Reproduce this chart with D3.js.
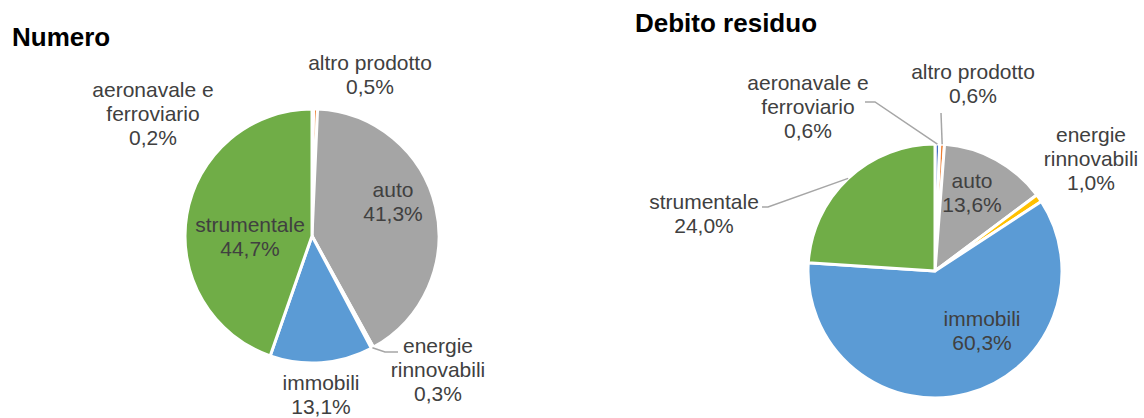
<!DOCTYPE html>
<html>
<head>
<meta charset="utf-8">
<script src="https://cdn.jsdelivr.net/npm/d3@7"></script>
<style>
  html, body { margin: 0; padding: 0; background: #fff; }
  svg { display: block; font-family: "Liberation Sans", Arial, sans-serif; }
</style>
</head>
<body>
<svg id="chart" width="1144" height="418"></svg>
<script>
// ---- Data ----
const categories = ["aeronavale e ferroviario", "altro prodotto", "auto", "energie rinnovabili", "immobili", "strumentale"];
const labelLines = [["aeronavale e", "ferroviario"], ["altro prodotto"], ["auto"], ["energie", "rinnovabili"], ["immobili"], ["strumentale"]];
const numeroValues = [0.2, 0.5, 41.3, 0.3, 13.1, 44.7];
const debitoValues = [0.6, 0.6, 13.6, 1.0, 60.3, 24.0];
const titles = ["Numero", "Debito residuo"];
const colors = ["#4472C4", "#ED7D31", "#A5A5A5", "#FFC000", "#5B9BD5", "#70AD47"];

// ---- Layout (label placement relative to pie centre) ----
const layouts = [
  {
    title: { x: 12, y: 46 }, cx: 312, cy: 236, r: 127,
    labels: [
      { dx: -159, y0: -139 },
      { dx: 58, y0: -166 },
      { dx: 81, y0: -39 },
      { dx: 126, y0: 117, leader: [[73, 116], [86, 116]] },
      { dx: 9, y0: 154 },
      { dx: -62, y0: -4 }
    ]
  },
  {
    title: { x: 635, y: 32 }, cx: 935, cy: 271, r: 127,
    labels: [
      { dx: -127, y0: -181, leader: [[-60, -169], [-70, -169]] },
      { dx: 38, y0: -192, leader: [[6, -158]] },
      { dx: 37, y0: -83 },
      { dx: 156, y0: -129 },
      { dx: 47, y0: 55 },
      { dx: -231, y0: -62, leader: [[-167, -64], [-173, -64]] }
    ]
  }
];

const svg = d3.select("#chart");
const fmt = v => d3.format(".1f")(v).replace(".", ",") + "%";
const lineH = 24;

[numeroValues, debitoValues].forEach((values, k) => {
  const L = layouts[k];
  svg.append("text")
    .attr("x", L.title.x).attr("y", L.title.y)
    .attr("font-size", 26).attr("font-weight", "bold").attr("fill", "#000")
    .text(titles[k]);

  const data = categories.map((c, i) => ({ cat: c, value: values[i], i }));
  const pie = d3.pie().value(d => d.value).sort(null).startAngle(0).endAngle(2 * Math.PI);
  const arcs = pie(data);
  const arc = d3.arc().innerRadius(0).outerRadius(L.r);
  const g = svg.append("g").attr("transform", `translate(${L.cx},${L.cy})`);

  g.selectAll("path").data(arcs).join("path")
    .attr("d", arc)
    .attr("fill", d => colors[d.data.i])
    .attr("stroke", "#fff")
    .attr("stroke-width", 3)
    .attr("stroke-linejoin", "round");

  // leader lines
  arcs.forEach(a => {
    const lab = L.labels[a.data.i];
    if (!lab.leader) return;
    const mid = (a.startAngle + a.endAngle) / 2;
    const p0 = [L.r * Math.sin(mid), -L.r * Math.cos(mid)];
    const pts = [p0].concat(lab.leader);
    g.append("path")
      .attr("d", d3.line()(pts))
      .attr("fill", "none")
      .attr("stroke", "#a6a6a6")
      .attr("stroke-width", 1.5);
  });

  // labels
  arcs.forEach(a => {
    const i = a.data.i;
    const lab = L.labels[i];
    const lines = labelLines[i].concat([fmt(values[i])]);
    const t = g.append("text")
      .attr("text-anchor", "middle")
      .attr("font-size", 21)
      .attr("fill", "#404040");
    lines.forEach((s, j) => {
      t.append("tspan").attr("x", lab.dx).attr("y", lab.y0 + j * lineH).text(s);
    });
  });
});
</script>
</body>
</html>
